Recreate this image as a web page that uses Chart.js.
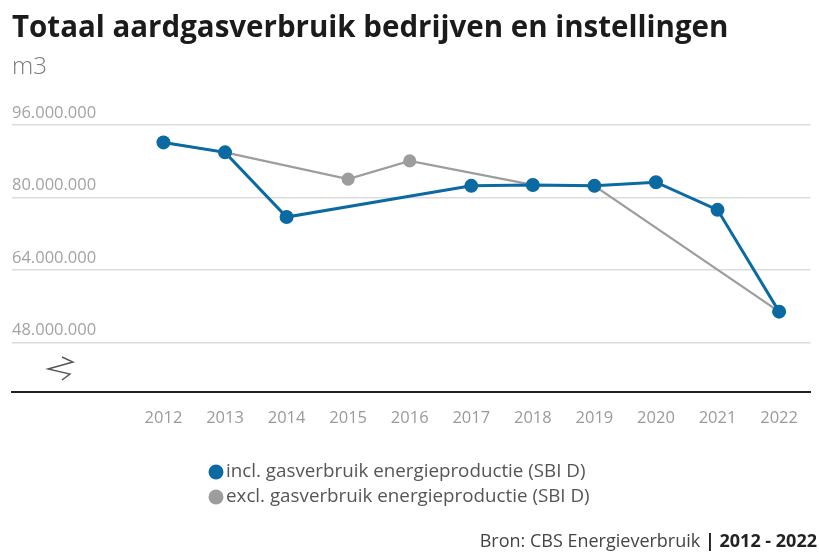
<!DOCTYPE html>
<html lang="nl">
<head>
  <meta charset="UTF-8" />
  <title>Totaal aardgasverbruik bedrijven en instellingen</title>
  <script src="https://cdn.jsdelivr.net/npm/chart.js"></script>
  <style>
    body { margin: 0; background: #fff; }
    .wrap { position: relative; width: 819px; height: 552px; }
  </style>
</head>
<body>
  <div class="wrap"><canvas id="gasChart"></canvas></div>

  <script>
    const years = [2012, 2013, 2014, 2015, 2016, 2017, 2018, 2019, 2020, 2021, 2022];
    // m3; null = no point for that year
    const inclValues = [92200000, 90000000, 75700000, null, null, 82600000, 82800000, 82600000, 83400000, 77300000, 54800000];
    const exclValues = [92200000, 90000000, null, 84100000, 88100000, null, 82800000, 82600000, null, null, 54800000];
    const yTicks = [48000000, 64000000, 80000000, 96000000];
    const seriesLabels = ['incl. gasverbruik energieproductie (SBI D)', 'excl. gasverbruik energieproductie (SBI D)'];

    const blue = '#0b6aa2';
    const grey = '#9d9d9d';
    const font = "'Open Sans', sans-serif";

    function toPoints(vals) {
      return years.map((y, i) => ({ x: y, y: vals[i] }));
    }

    // legend, source line and axis break mark
    const extras = {
      id: 'extras',
      afterDraw(chart) {
        const ctx = chart.ctx;
        ctx.save();

        // axis break
        ctx.strokeStyle = '#555';
        ctx.lineWidth = 1.4;
        ctx.beginPath();
        ctx.moveTo(62, 357);
        ctx.lineTo(73, 362);
        ctx.lineTo(48, 369);
        ctx.lineTo(70, 374);
        ctx.lineTo(62, 380);
        ctx.stroke();

        // legend
        const rows = [472, 497];
        chart.data.datasets.forEach((ds, i) => {
          ctx.fillStyle = ds.borderColor;
          ctx.beginPath();
          ctx.arc(216, rows[i], 7.5, 0, Math.PI * 2);
          ctx.fill();
          ctx.fillStyle = '#555';
          ctx.font = '18.8px ' + font;
          ctx.textAlign = 'left';
          ctx.textBaseline = 'middle';
          ctx.fillText(ds.label, 226, rows[i]);
        });

        // source
        ctx.textBaseline = 'alphabetic';
        ctx.textAlign = 'right';
        ctx.font = 'bold 18px ' + font;
        const boldPart = '| 2012 - 2022';
        const bw = ctx.measureText(boldPart).width;
        ctx.fillStyle = '#222';
        ctx.fillText(boldPart, 817, 547);
        ctx.font = '18px ' + font;
        ctx.fillStyle = '#444';
        ctx.fillText('Bron: CBS Energieverbruik ', 817 - bw, 547);

        ctx.restore();
      }
    };

    new Chart(document.getElementById('gasChart').getContext('2d'), {
      type: 'line',
      data: {
        datasets: [
          {
            label: seriesLabels[0],
            data: toPoints(inclValues),
            borderColor: blue,
            backgroundColor: blue,
            borderWidth: 3,
            pointRadius: 5.5,
            pointHoverRadius: 5.5,
            spanGaps: true,
            tension: 0
          },
          {
            label: seriesLabels[1],
            data: toPoints(exclValues),
            borderColor: grey,
            backgroundColor: grey,
            borderWidth: 2.2,
            pointRadius: 5.5,
            pointHoverRadius: 5.5,
            spanGaps: true,
            tension: 0
          }
        ]
      },
      options: {
        responsive: true,
        maintainAspectRatio: false,
        animation: false,
        layout: { padding: { left: 12, right: 1, top: 0, bottom: 108 } },
        plugins: {
          legend: { display: false },
          tooltip: { enabled: false },
          title: {
            display: true,
            text: 'Totaal aardgasverbruik bedrijven en instellingen',
            align: 'start',
            color: '#1b1b1b',
            font: { family: font, size: 29.5, weight: 'bold' },
            padding: { top: 11, bottom: 6 }
          },
          subtitle: {
            display: true,
            text: 'm3',
            align: 'start',
            color: '#7a7a7a',
            font: { family: font, size: 24, weight: '300' },
            padding: { top: 0, bottom: 44 }
          }
        },
        scales: {
          x: {
            type: 'linear',
            min: 2009.54,
            max: 2022.51,
            afterBuildTicks: (scale) => { scale.ticks = years.map(v => ({ value: v })); },
            grid: { display: false, drawTicks: false },
            border: { display: true, color: '#222', width: 2 },
            ticks: {
              color: '#9a9a9a',
              font: { family: font, size: 16.5 },
              padding: 16,
              maxRotation: 0,
              autoSkip: false,
              callback: (v) => String(v)
            }
          },
          y: {
            min: 37000000,
            max: 96000000,
            afterBuildTicks: (scale) => { scale.ticks = yTicks.map(v => ({ value: v })); },
            grid: { color: '#dcdcdc', lineWidth: 1.5, drawTicks: false },
            border: { display: false },
            ticks: {
              mirror: true,
              padding: 0,
              labelOffset: -12,
              color: '#a3a3a3',
              font: { family: font, size: 16.5 },
              callback: (v) => v.toLocaleString('de-DE')
            }
          }
        }
      },
      plugins: [extras]
    });
  </script>
</body>
</html>
